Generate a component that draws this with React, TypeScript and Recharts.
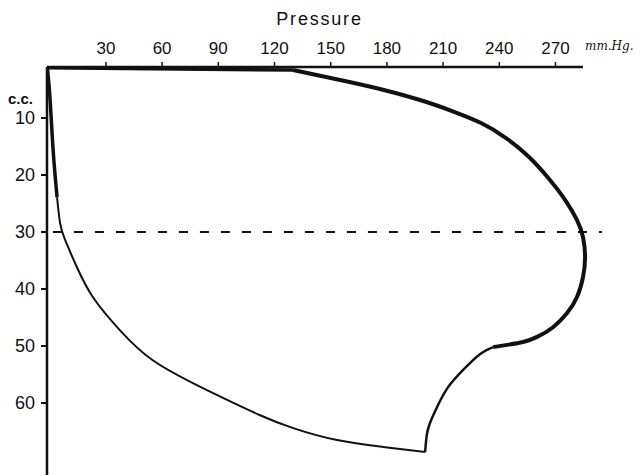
import React from 'react';
import { LineChart, Line, XAxis, YAxis, ReferenceLine, Label } from 'recharts';

// Pressure ticks (mm.Hg) and volume ticks (c.c.)
const pressureTicks = [30, 60, 90, 120, 150, 180, 210, 240, 270];
const volumeTicks = [10, 20, 30, 40, 50, 60];

// Loop segments: pressure (mm.Hg) and volume (c.c.)
const topEdgeP = [-1.2, 129.9];
const topEdgeV = [1.2, 1.58];

const upperCurveP = [129.9, 155, 176.3, 197.7, 214.8, 230.3, 243.6, 255.9, 266.6, 275.2, 281.5, 284.7, 285.8, 284.7, 281.5, 276.2, 268.7, 260.2, 252.7, 244.2, 236.7];
const upperCurveV = [1.58, 3.33, 4.91, 6.84, 8.77, 10.88, 13.51, 16.84, 20.7, 24.39, 27.9, 30.9, 34.4, 37.9, 41.4, 44.2, 46.7, 48.4, 49.3, 49.8, 50.2];

const lowerRightP = [236.7, 229.8, 220.7, 212.5, 206.8, 203, 201.3, 200.4];
const lowerRightV = [50.2, 51.4, 54.2, 57.3, 60.7, 63.5, 65.6, 68.6];

const bottomCurveP = [200.4, 178, 153.4, 130, 112, 92.5, 76.4, 55, 37.4, 23, 14.4, 8.2, 5.5, 3.9];
const bottomCurveV = [68.6, 67.7, 66.5, 64.4, 62.1, 59.1, 56.5, 52.5, 47.2, 41.4, 36.1, 31.4, 28.4, 23.9];

const leftTopP = [3.9, 1.8, 0.2, -0.6, -1.2];
const leftTopV = [23.9, 15.6, 6.8, 3.5, 1.2];

// Dashed reference at 30 c.c.
const dashedLevel = 30;

const toRows = (p: number[], v: number[]) => p.map((x, i) => ({ p: x, v: v[i] }));

const X_DOMAIN: [number, number] = [-1.46, 295.9];
const Y_DOMAIN: [number, number] = [1.05, 72.63];

const INK = '#111';
const FONT = '"Liberation Sans", Arial, sans-serif';

export default function App() {
  return (
    <div style={{ position: 'absolute', left: 0, top: 0, width: 641, height: 475, background: '#fff' }}>
      <LineChart
        width={641}
        height={475}
        margin={{ top: 27, right: 37, bottom: 0, left: 0 }}
      >
        <XAxis
          xAxisId="x"
          dataKey="p"
          type="number"
          orientation="top"
          domain={X_DOMAIN}
          allowDataOverflow
          ticks={pressureTicks}
          height={40}
          axisLine={false}
          tickLine={{ stroke: INK, strokeWidth: 1.5 }}
          tickSize={5}
          tickMargin={8}
          tick={{ fill: INK, fontSize: 17, fontFamily: FONT }}
        >
          <Label value="Pressure" position="top" offset={2} dx={-6} style={{ fill: INK, fontSize: 18, fontFamily: FONT, letterSpacing: 1.8 }} />
        </XAxis>
        <YAxis
          yAxisId="y"
          dataKey="v"
          type="number"
          reversed
          domain={Y_DOMAIN}
          allowDataOverflow
          ticks={volumeTicks}
          width={47}
          axisLine={{ stroke: INK, strokeWidth: 2.5 }}
          tickLine={{ stroke: INK, strokeWidth: 2 }}
          tickSize={6}
          tickMargin={6}
          tick={{ fill: INK, fontSize: 18, fontFamily: FONT }}
        />
        <ReferenceLine
          xAxisId="x"
          yAxisId="y"
          segment={[{ x: X_DOMAIN[0], y: Y_DOMAIN[0] }, { x: 284.7, y: Y_DOMAIN[0] }]}
          stroke={INK}
          strokeWidth={2.5}
          ifOverflow="visible"
        />
        <ReferenceLine
          xAxisId="x"
          yAxisId="y"
          segment={[{ x: 1.7, y: dashedLevel }, { x: 294.9, y: dashedLevel }]}
          stroke={INK}
          strokeWidth={2}
          strokeDasharray="9 12"
          ifOverflow="visible"
        />
        <Line xAxisId="x" yAxisId="y" data={toRows(topEdgeP, topEdgeV)} dataKey="v" type="linear" stroke={INK} strokeWidth={3.5} dot={false} isAnimationActive={false} />
        <Line xAxisId="x" yAxisId="y" data={toRows(upperCurveP, upperCurveV)} dataKey="v" type="natural" stroke={INK} strokeWidth={4} dot={false} isAnimationActive={false} />
        <Line xAxisId="x" yAxisId="y" data={toRows(lowerRightP, lowerRightV)} dataKey="v" type="natural" stroke={INK} strokeWidth={2.5} dot={false} isAnimationActive={false} />
        <Line xAxisId="x" yAxisId="y" data={toRows(bottomCurveP, bottomCurveV)} dataKey="v" type="natural" stroke={INK} strokeWidth={2} dot={false} isAnimationActive={false} />
        <Line xAxisId="x" yAxisId="y" data={toRows(leftTopP, leftTopV)} dataKey="v" type="natural" stroke={INK} strokeWidth={3.5} dot={false} isAnimationActive={false} />
      </LineChart>
      <svg width={641} height={475} style={{ position: 'absolute', left: 0, top: 0, pointerEvents: 'none' }}>
        <text x={585} y={50} fill={INK} fontSize={12} fontStyle="italic" fontFamily='"DejaVu Serif", serif'>mm.Hg.</text>
        <text x={8} y={104} fill={INK} fontSize={15} fontWeight="bold" fontFamily={FONT}>c.c.</text>
      </svg>
    </div>
  );
}
